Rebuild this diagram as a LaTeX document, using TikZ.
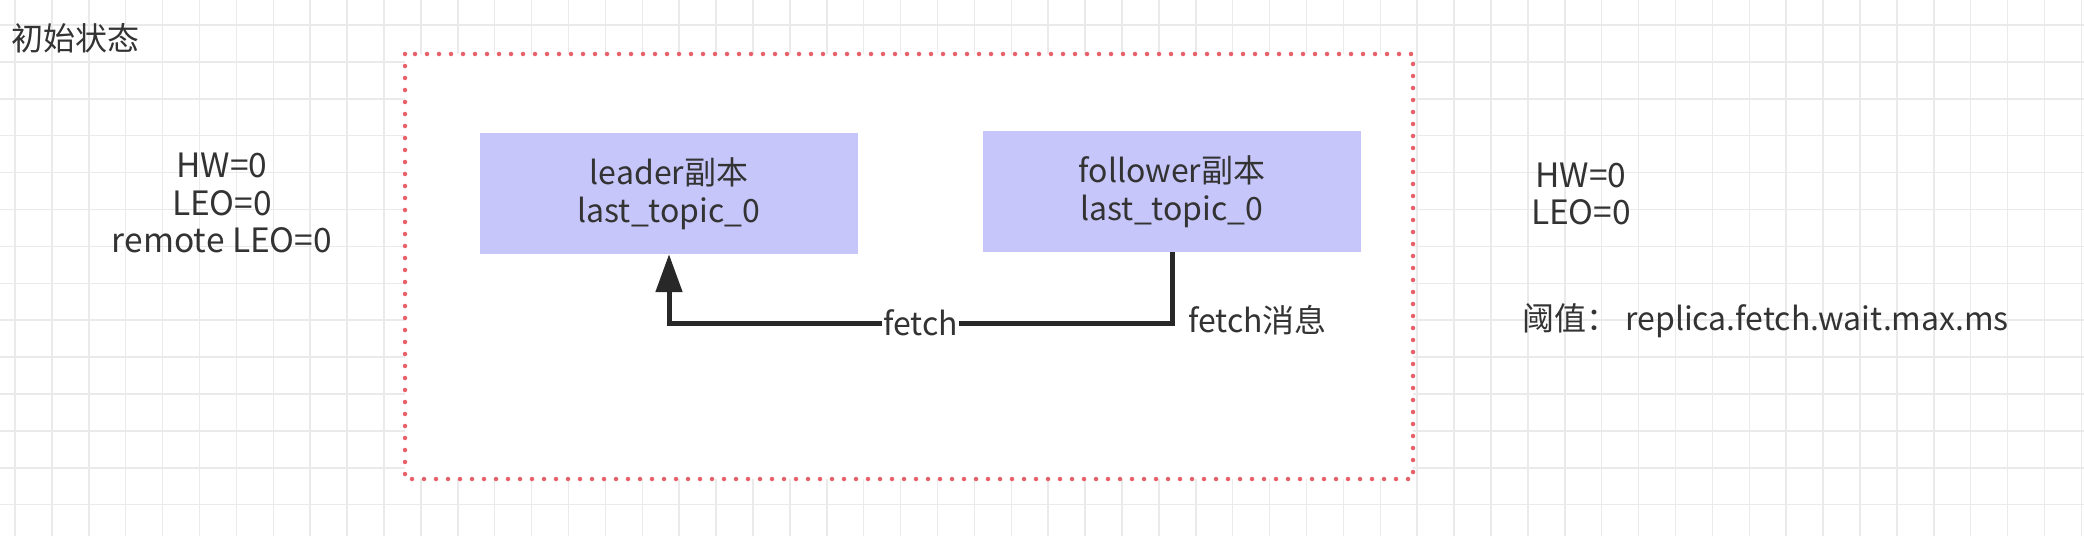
\documentclass[tikz,border=0pt]{standalone}
\usepackage{fontspec}
\setmainfont{Noto Sans CJK SC}
\usetikzlibrary{positioning,arrows.meta}

\definecolor{replicafill}{RGB}{198,198,250}
\definecolor{gridgray}{RGB}{234,234,234}
\definecolor{boxred}{RGB}{232,96,106}
\definecolor{inkgray}{RGB}{51,51,51}
\definecolor{wiregray}{RGB}{40,40,40}

\begin{document}
\begin{tikzpicture}[
        x=1pt, y=-1pt,
        font=\fontsize{32}{37.5}\selectfont, text=inkgray,
        replica/.style={fill=replicafill, align=center, inner sep=0pt, minimum width=378pt, minimum height=121pt},
        info/.style={align=center, inner sep=0pt},
        state/.style={info, font=\fontsize{33.5}{37.5}\selectfont},
        wire/.style={-{Triangle[length=38pt, width=26pt]}, line width=5pt, draw=wiregray}
    ]
        \useasboundingbox (0,0) rectangle (2084,536);
        \fill[white] (0,0) rectangle (2084,536);
        % background grid
        \foreach \gx in {0,...,56}
            \draw[gridgray, line width=1.5pt] (15+36.9*\gx,0) -- ++(0,536);
        \foreach \gy in {0,...,13}
            \draw[gridgray, line width=1.5pt] (0,25+36.9*\gy) -- ++(2084,0);

        % dotted frame
        \draw[boxred, fill=white, line width=4.5pt, line cap=round, dash pattern=on 0pt off 12pt] (405,54) rectangle (1413,479);

        \node[info] (title) at (75,38.5) {初始状态};
        \node[state] (leaderstate) at (222,203) {HW=0\\LEO=0\\remote LEO=0};
        \node[state] (followerstate) at (1581,194) {HW=0\\LEO=0};
        \node[info, anchor=west] (threshold) at (1522,321) {阈值： replica.fetch.wait.max.ms};

        \node[replica] (leader) at (669,193.5) {leader副本\\last\_topic\_0};
        \node[replica] (follower) at (1172,191.5) {follower副本\\last\_topic\_0};
        \node[info, anchor=west] (fetchmsg) at (1188,320) {fetch消息};

        \draw[wire] (follower.south) -- ++(0,71) -| node[pos=0.25, fill=white, inner sep=1pt] (fetch) {fetch} (leader.south);
    \end{tikzpicture}
\end{document}
